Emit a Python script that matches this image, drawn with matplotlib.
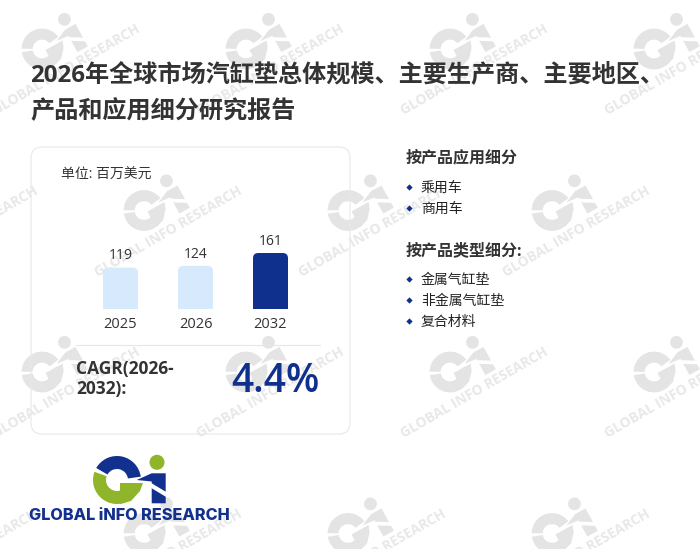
import matplotlib
matplotlib.use("Agg")
import matplotlib.pyplot as plt
from matplotlib.patches import Wedge, Circle, Polygon, FancyBboxPatch
from matplotlib.transforms import Affine2D

plt.rcParams["font.family"] = ["Open Sans", "Noto Sans CJK SC", "DejaVu Sans"]

years = ["2025", "2026", "2032"]
values = [119, 124, 161]
bar_colors = ["#d6e9fd", "#d6e9fd", "#0f308c"]

title_lines = ["2026年全球市场汽缸垫总体规模、主要生产商、主要地区、", "产品和应用细分研究报告"]
app_items = ["乘用车", "商用车"]
type_items = ["金属气缸垫", "非金属气缸垫", "复合材料"]

NAVY = "#0f308c"
GREEN = "#8fb52a"
GREY = "#e4e4e4"
DARK = "#333333"

fig = plt.figure(figsize=(7, 5.49), dpi=100)
page = fig.add_axes([0, 0, 1, 1])
page.set_xlim(0, 700)
page.set_ylim(549, 0)
page.axis("off")


def gi_mark(cx, cy, scale, angle, top, low, z):
    # drawn y-up around the centre of the G, then placed on the page
    tr = Affine2D().scale(scale).rotate_deg(angle).scale(1, -1).translate(cx, cy) + page.transData
    parts = [
        Wedge((0, 0), 24, 8, 150, width=13, color=top),
        Wedge((0, 0), 24, 160, 300, width=13, color=low),
        Polygon([(3, -3), (26, -3), (23, -11), (14, -21), (3, -24)], color=low),
        Polygon([(19.7, 0), (34.7, 6.7), (48.7, 6.7), (48.7, -11.7), (34.7, -3.3), (34.7, -1.5)], color=top),
        Polygon([(34.7, -8.3), (48.7, -16.7), (48.7, -23.3), (34.7, -23.3)], color=top),
        Circle((40, 17.7), 7.5, color=low),
    ]
    for p in parts:
        p.set_transform(tr)
        p.set_zorder(z)
        p.set_linewidth(0)
        page.add_patch(p)


# background watermark tiles
tile_rows = [(49, [42, 246, 450, 654]), (210.5, [-60, 144, 348, 552, 756]),
             (372, [42, 246, 450, 654]), (533.5, [-60, 144, 348, 552, 756])]
for row_y, row_x in tile_rows:
    for x0 in row_x:
        gi_mark(x0, row_y, 0.85, 29, GREY, GREY, 1)
        page.text(x0 + 24, row_y + 21, "GLOBAL INFO RESEARCH", color="#e8e8e8", fontsize=10,
                  fontweight="bold", rotation=30, rotation_mode="anchor",
                  ha="center", va="center", zorder=1)

# title
page.text(30, 75, title_lines[0], fontsize=17.4, fontweight="bold", color=DARK, va="center", zorder=3)
page.text(30, 112, title_lines[1], fontsize=17.4, fontweight="bold", color=DARK, va="center", zorder=3)

# card
card = FancyBboxPatch((31, 147), 319, 287, boxstyle="round,pad=0,rounding_size=11",
                      fc="none", ec="#e8e8e8", lw=0.8, zorder=2)
page.add_patch(card)
page.text(61, 175, "单位: 百万美元", fontsize=10, color=DARK, va="center", zorder=3)

# bar chart, px box x 83-308, baseline at y=309
ax = fig.add_axes([83 / 700, 1 - 309 / 549, 225 / 700, 70 / 549])
ax.patch.set_alpha(0)
bars = ax.bar(range(3), values, width=35 / 75, color=bar_colors, zorder=3)
ax.set_xlim(-0.5, 2.5)
ax.set_ylim(0, 161 * 70 / 56)
# swap each bar for one with rounded top corners, the bottom is clipped at the baseline
for b, c in zip(bars, bar_colors):
    b.set_visible(False)
    ax.add_patch(FancyBboxPatch((b.get_x(), -30), b.get_width(), b.get_height() + 30,
                                boxstyle="round,pad=0,rounding_size=0.07", mutation_aspect=215,
                                fc=c, ec="none", zorder=3))
ax.set_xticks(range(3))
ax.set_xticklabels(years, fontsize=10.5, color=DARK)
ax.tick_params(axis="x", length=0, pad=6)
ax.set_yticks([])
for s in ax.spines.values():
    s.set_visible(False)
for i, v in enumerate(values):
    ax.text(i, v + 12, str(v), ha="center", va="bottom", fontsize=10, color=DARK)

page.plot([76, 320], [344.5, 344.5], color="#e6e6e6", lw=0.8, zorder=3)
page.text(76, 369, "CAGR(2026-", fontsize=12.5, fontweight="bold", color=DARK, va="center", zorder=3)
page.text(76, 389, "2032):", fontsize=12.5, fontweight="bold", color=DARK, va="center", zorder=3)
page.text(320, 382, "4.4%", fontsize=28, fontweight="semibold", color=NAVY, ha="right", va="center", zorder=3)

# right column
page.text(406, 158, "按产品应用细分", fontsize=11.5, fontweight="bold", color=DARK, va="center", zorder=3)
for k, item in enumerate(app_items):
    y = 187 + 21 * k
    page.plot(408.5, y, marker="D", ms=3.2, color=NAVY, mew=0, zorder=3)
    page.text(421, y + 1.5, item, fontsize=10, color="#222222", va="center", zorder=3)
page.text(406, 251, "按产品类型细分:", fontsize=11.5, fontweight="bold", color=DARK, va="center", zorder=3)
for k, item in enumerate(type_items):
    y = 279 + 21 * k
    page.plot(408.5, y, marker="D", ms=3.2, color=NAVY, mew=0, zorder=3)
    page.text(421, y + 1.5, item, fontsize=10, color="#222222", va="center", zorder=3)

# logo
gi_mark(117, 480, 1.0, 0, "#12318f", GREEN, 4)
page.text(129, 515, "GLOBAL iNFO RESEARCH", fontsize=11.7, fontweight="heavy", color="#12318f",
          family="Inter", ha="center", va="center", zorder=4)

fig.savefig("out.png", dpi=100)
